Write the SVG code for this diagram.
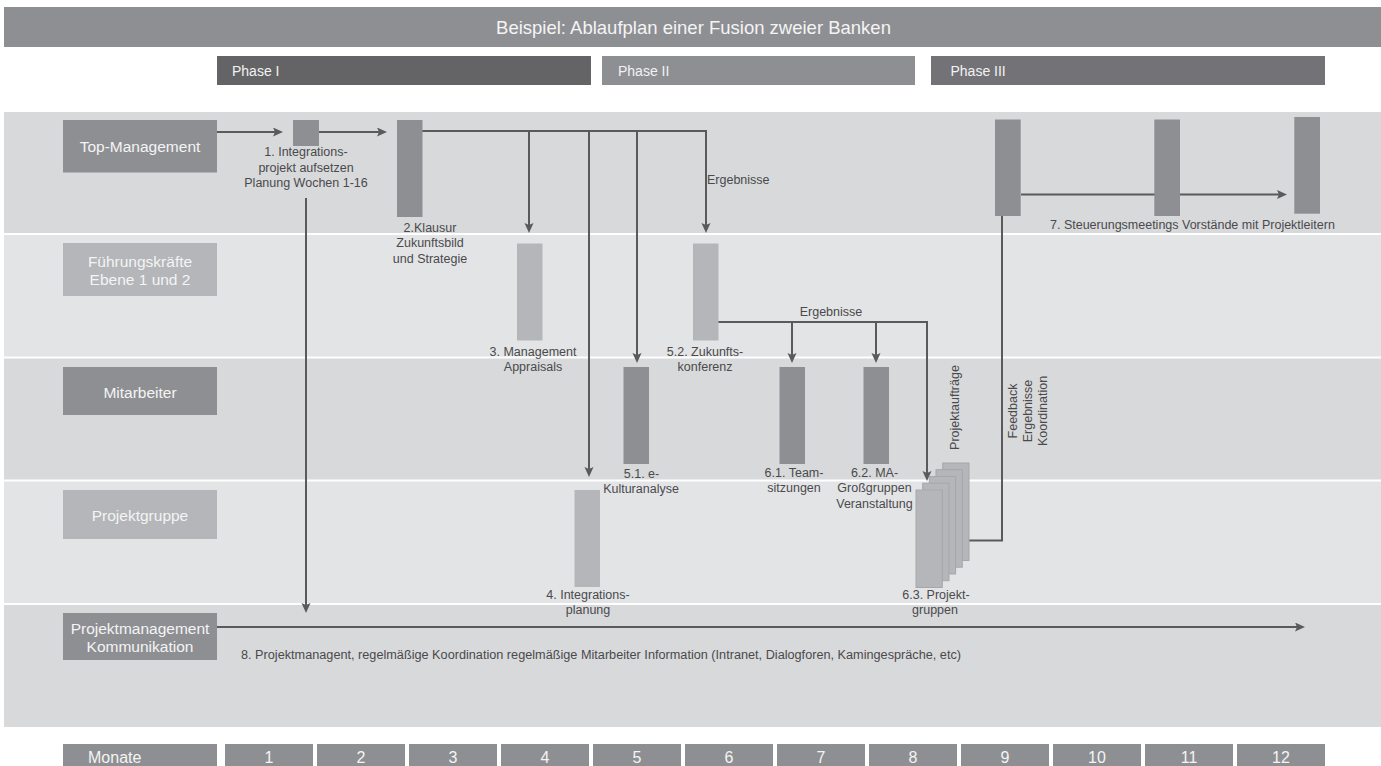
<svg xmlns="http://www.w3.org/2000/svg" width="1381" height="766" viewBox="0 0 1381 766">
<style>
text{font-family:"Liberation Sans",Arial,sans-serif;}
.bd{fill:#d8d9db;}
.bl{fill:#e3e4e6;}
.dk{fill:#8e8f93;}
.lt{fill:#b5b6b9;}
.hd{fill:#f4f4f4;font-size:15.5px;text-anchor:middle;}
.lb{fill:#4a4a4c;font-size:12.5px;text-anchor:middle;}
.ls{fill:#4a4a4c;font-size:12.5px;}
.ph{fill:#f2f2f2;font-size:14px;}
.mo{fill:#f4f4f4;font-size:16px;text-anchor:middle;}
.cn{fill:none;stroke:#5a5a5c;stroke-width:2;}
.ca{fill:none;stroke:#5a5a5c;stroke-width:2;marker-end:url(#ah);}
.st{fill:#b5b6b9;stroke:#a6a7aa;stroke-width:1;}
</style>
<defs>
<marker id="ah" markerUnits="userSpaceOnUse" markerWidth="12" markerHeight="10" refX="7" refY="4.5" orient="auto">
<path d="M0,0 L10,4.5 L0,9 L2,4.5 z" fill="#5a5a5c"/>
</marker>
</defs>
<rect width="1381" height="766" fill="#ffffff"/>
<g id="title">
<rect x="4" y="7" width="1377" height="40" class="dk"/>
<text x="693.5" y="34" font-size="18.5" fill="#f4f4f4" text-anchor="middle">Beispiel: Ablaufplan einer Fusion zweier Banken</text>
</g>
<g id="phases">
<rect x="217" y="56" width="374" height="29" fill="#646466"/>
<text x="232" y="76" class="ph">Phase I</text>
<rect x="602" y="56" width="313" height="29" class="dk"/>
<text x="618" y="76" class="ph">Phase II</text>
<rect x="931" y="56" width="394" height="29" fill="#737377"/>
<text x="950.5" y="76" class="ph">Phase III</text>
</g>
<g id="bands">
<rect x="4" y="112" width="1377" height="121" class="bd"/>
<rect x="4" y="235" width="1377" height="121.5" class="bl"/>
<rect x="4" y="358.5" width="1377" height="121" class="bd"/>
<rect x="4" y="481.5" width="1377" height="121.5" class="bl"/>
<rect x="4" y="605" width="1377" height="122" class="bd"/>
</g>
<g id="lane-top">
<rect x="63" y="120" width="154" height="52.5" class="dk"/>
<text x="140" y="152" class="hd">Top-Management</text>
</g>
<g id="lane-fuehrung">
<rect x="63" y="243" width="154" height="53" class="lt"/>
<text x="140" y="266.5" class="hd">Führungskräfte</text>
<text x="140" y="285" class="hd">Ebene 1 und 2</text>
</g>
<g id="lane-mitarbeiter">
<rect x="63" y="367" width="154" height="48" class="dk"/>
<text x="140" y="397.5" class="hd">Mitarbeiter</text>
</g>
<g id="lane-projektgruppe">
<rect x="63" y="490" width="154" height="49" class="lt"/>
<text x="140" y="520.5" class="hd">Projektgruppe</text>
</g>
<g id="lane-pm">
<rect x="63" y="613" width="154" height="47" class="dk"/>
<text x="140" y="634.3" class="hd">Projektmanagement</text>
<text x="140" y="652.3" class="hd">Kommunikation</text>
</g>
<g id="connectors">
<path class="ca" d="M217,132 H280"/>
<path class="ca" d="M319,132 H384"/>
<path class="ca" d="M422,131 H706 V230"/>
<path class="ca" d="M529,131 V230"/>
<path class="ca" d="M589,131 V474"/>
<path class="ca" d="M637,131 V360"/>
<path class="ca" d="M718,322 H927 V478"/>
<path class="ca" d="M792,322 V360"/>
<path class="ca" d="M876,322 V360"/>
<path class="cn" d="M969,540.5 H1002 V216"/>
<path class="ca" d="M1021,194.5 H1284"/>
<path class="ca" d="M306,198 V610"/>
<path class="ca" d="M217,627 H1302"/>
</g>
<g id="n1">
<rect x="293" y="120" width="26" height="26" class="dk"/>
<text x="306" y="156" class="lb">1. Integrations-</text>
<text x="306" y="171.5" class="lb">projekt aufsetzen</text>
<text x="306" y="187" class="lb">Planung Wochen 1-16</text>
</g>
<g id="n2">
<rect x="397" y="120" width="25.5" height="97" class="dk"/>
<text x="430" y="231.5" class="lb">2.Klausur</text>
<text x="430" y="247" class="lb">Zukunftsbild</text>
<text x="430" y="262.5" class="lb">und Strategie</text>
</g>
<g id="lbl-ergebnisse-1">
<text x="707" y="184" class="ls">Ergebnisse</text>
</g>
<g id="n3">
<rect x="517" y="243.5" width="25.5" height="97" class="lt"/>
<text x="533" y="355.5" class="lb">3. Management</text>
<text x="533" y="370.5" class="lb">Appraisals</text>
</g>
<g id="n52">
<rect x="693" y="243.5" width="25.5" height="97" class="lt"/>
<text x="705" y="355.5" class="lb">5.2. Zukunfts-</text>
<text x="705" y="370.5" class="lb">konferenz</text>
</g>
<g id="lbl-ergebnisse-2">
<text x="831" y="316" class="lb">Ergebnisse</text>
</g>
<g id="n51">
<rect x="623.5" y="367" width="25.5" height="97" class="dk"/>
<text x="641.5" y="478" class="lb">5.1. e-</text>
<text x="641" y="493" class="lb">Kulturanalyse</text>
</g>
<g id="n61">
<rect x="779.5" y="367" width="25.5" height="97" class="dk"/>
<text x="794" y="476.5" class="lb">6.1. Team-</text>
<text x="794" y="492" class="lb">sitzungen</text>
</g>
<g id="n62">
<rect x="863.5" y="367" width="25.5" height="97" class="dk"/>
<text x="874.5" y="476.5" class="lb">6.2. MA-</text>
<text x="874.5" y="492" class="lb">Großgruppen</text>
<text x="874.5" y="507.5" class="lb">Veranstaltung</text>
</g>
<g id="n4">
<rect x="574.5" y="490" width="25.5" height="97" class="lt"/>
<text x="588" y="598.5" class="lb">4. Integrations-</text>
<text x="588" y="614" class="lb">planung</text>
</g>
<g id="n63">
<rect x="942.7" y="463" width="26.3" height="97.5" class="st"/>
<rect x="936" y="469.7" width="26.3" height="97.5" class="st"/>
<rect x="929.3" y="476.5" width="26.3" height="97.5" class="st"/>
<rect x="922.7" y="483.2" width="26.3" height="97.5" class="st"/>
<rect x="916" y="490" width="26.3" height="97.5" class="st"/>
<text x="936" y="598.5" class="lb">6.3. Projekt-</text>
<text x="935" y="614" class="lb">gruppen</text>
</g>
<g id="lbl-projektauftraege">
<text class="lb" transform="translate(959,407.5) rotate(-90)">Projektaufträge</text>
</g>
<g id="lbl-feedback">
<text class="lb" transform="translate(1016.5,411) rotate(-90)">Feedback</text>
<text class="lb" transform="translate(1031.8,411) rotate(-90)">Ergebnisse</text>
<text class="lb" transform="translate(1047,411) rotate(-90)">Koordination</text>
</g>
<g id="n7">
<rect x="995" y="119.5" width="25.7" height="96.5" class="dk"/>
<rect x="1154.3" y="119.5" width="25.7" height="96.5" class="dk"/>
<rect x="1294.3" y="117" width="25.7" height="96.7" class="dk"/>
<text x="1050" y="229" class="ls">7. Steuerungsmeetings Vorstände mit Projektleitern</text>
</g>
<g id="n8">
<text x="241" y="659" class="ls" textLength="720" lengthAdjust="spacingAndGlyphs">8. Projektmanagent, regelmäßige Koordination regelmäßige Mitarbeiter Information (Intranet, Dialogforen, Kamingespräche, etc)</text>
</g>
<g id="months">
<rect x="63" y="744" width="154" height="30" class="dk"/>
<text x="88" y="763" font-size="16" fill="#f4f4f4">Monate</text>
<rect x="225" y="744" width="88" height="30" class="dk"/><text x="269" y="763" class="mo">1</text>
<rect x="317" y="744" width="88" height="30" class="dk"/><text x="361" y="763" class="mo">2</text>
<rect x="409" y="744" width="88" height="30" class="dk"/><text x="453" y="763" class="mo">3</text>
<rect x="501" y="744" width="88" height="30" class="dk"/><text x="545" y="763" class="mo">4</text>
<rect x="593" y="744" width="88" height="30" class="dk"/><text x="637" y="763" class="mo">5</text>
<rect x="685" y="744" width="88" height="30" class="dk"/><text x="729" y="763" class="mo">6</text>
<rect x="777" y="744" width="88" height="30" class="dk"/><text x="821" y="763" class="mo">7</text>
<rect x="869" y="744" width="88" height="30" class="dk"/><text x="913" y="763" class="mo">8</text>
<rect x="961" y="744" width="88" height="30" class="dk"/><text x="1005" y="763" class="mo">9</text>
<rect x="1053" y="744" width="88" height="30" class="dk"/><text x="1097" y="763" class="mo">10</text>
<rect x="1145" y="744" width="88" height="30" class="dk"/><text x="1189" y="763" class="mo">11</text>
<rect x="1237" y="744" width="88" height="30" class="dk"/><text x="1281" y="763" class="mo">12</text>
</g>
</svg>
